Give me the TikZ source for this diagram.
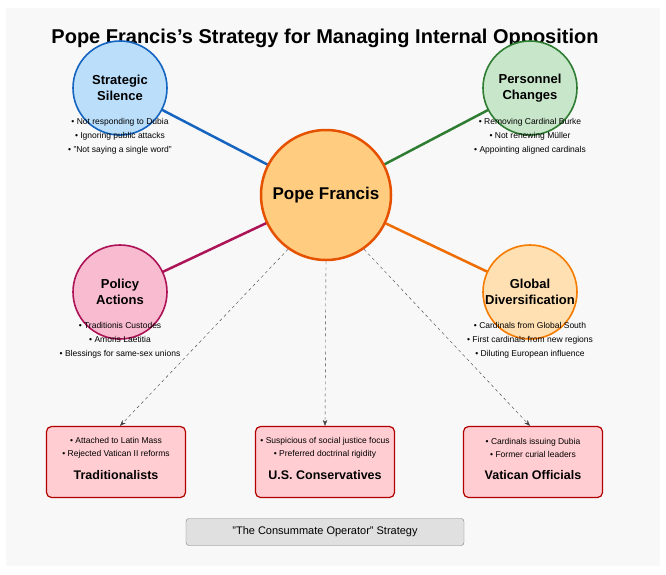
\documentclass[tikz,border=0pt]{standalone}
\usepackage{fontspec}
\setmainfont{Liberation Sans}
\usetikzlibrary{arrows.meta}
\definecolor{bg}{HTML}{F8F8F8}
\tikzset{x=1pt,y=-1pt,
 circ/.style={circle,draw,line width=1.6pt,minimum size=#1,inner sep=0pt,align=center,font=\fontsize{13}{16}\selectfont\bfseries},
 bul/.style={align=center,font=\fontsize{8.5}{14}\selectfont,inner sep=0pt},
 grp/.style={draw=red!70!black,fill={rgb,255:red,255;green,205;blue,210},rounded corners=5pt,line width=1.2pt,minimum width=139pt,minimum height=71pt},
 conn/.style={line width=2.5pt},
 dar/.style={dashed,draw=black!75,-{Stealth[length=6pt]}}}
\begin{document}
\begin{tikzpicture}
\useasboundingbox (0,0) rectangle (666,574);
\fill[white] (0,0) rectangle (666,574);
\fill[bg] (6,8) rectangle (660,566);
\node[font=\fontsize{20}{24}\selectfont\bfseries] (title) at (325,38) {Pope Francis's Strategy for Managing Internal Opposition};
\coordinate (c0) at (326,195);
\coordinate (c1) at (120,88);
\coordinate (c2) at (530,88);
\coordinate (c3) at (120,292);
\coordinate (c4) at (530,292);
\draw[conn,draw={rgb,255:red,21;green,101;blue,192}] (c1) -- (c0);
\draw[conn,draw={rgb,255:red,46;green,125;blue,50}] (c2) -- (c0);
\draw[conn,draw={rgb,255:red,173;green,20;blue,87}] (c3) -- (c0);
\draw[conn,draw={rgb,255:red,239;green,108;blue,0}] (c4) -- (c0);
\node[circ=94pt,fill={rgb,255:red,187;green,222;blue,251},draw={rgb,255:red,21;green,101;blue,192}] (n1) at (c1) {Strategic\\Silence};
\node[circ=94pt,fill={rgb,255:red,200;green,230;blue,201},draw={rgb,255:red,46;green,125;blue,50}] (n2) at (c2) {Personnel\\Changes};
\node[circ=94pt,fill={rgb,255:red,248;green,187;blue,208},draw={rgb,255:red,173;green,20;blue,87}] (n3) at (c3) {Policy\\Actions};
\node[circ=94pt,fill={rgb,255:red,255;green,224;blue,178},draw={rgb,255:red,245;green,124;blue,0}] (n4) at (c4) {Global\\Diversification};
\node[circ=130pt,line width=2.5pt,fill={rgb,255:red,255;green,204;blue,128},draw={rgb,255:red,230;green,81;blue,0},font=\fontsize{17}{20}\selectfont\bfseries] (pope) at (c0) {Pope Francis};
\node[bul] (b1) at (120,136) {• Not responding to Dubia\\• Ignoring public attacks\\• "Not saying a single word"};
\node[bul] (b2) at (530,136) {• Removing Cardinal Burke\\• Not renewing Müller\\• Appointing aligned cardinals};
\node[bul] (b3) at (120,340) {• Traditionis Custodes\\• Amoris Laetitia\\• Blessings for same-sex unions};
\node[bul] (b4) at (530,340) {• Cardinals from Global South\\• First cardinals from new regions\\• Diluting European influence};
\node[grp] (g1) at (116,462) {};
\node[grp] (g2) at (325,462) {};
\node[grp] (g3) at (533,462) {};
\foreach \g/\t/\a/\b in {g1/Traditionalists/Attached to Latin Mass/Rejected Vatican II reforms,
  g2/U.S. Conservatives/Suspicious of social justice focus/Preferred doctrinal rigidity,
  g3/Vatican Officials/Cardinals issuing Dubia/Former curial leaders}{
  \node[font=\fontsize{12.5}{15}\selectfont\bfseries] at ([yshift=-13pt]\g.center) {\t};
  \node[bul,font=\fontsize{8.5}{13}\selectfont] at ([yshift=14pt]\g.center) {• \a\\• \b};
}
\draw[dar] (pope.-125) -- (g1.north -| 120,0) ;
\draw[dar] (pope.south) -- (g2.north);
\draw[dar] (pope.-55) -- (g3.north -| 530,0);
\node[draw=black!50,fill=black!12,rounded corners=3pt,minimum width=278pt,minimum height=27pt,font=\fontsize{11}{13}\selectfont] (foot) at (325,532) {"The Consummate Operator" Strategy};
\end{tikzpicture}
\end{document}
